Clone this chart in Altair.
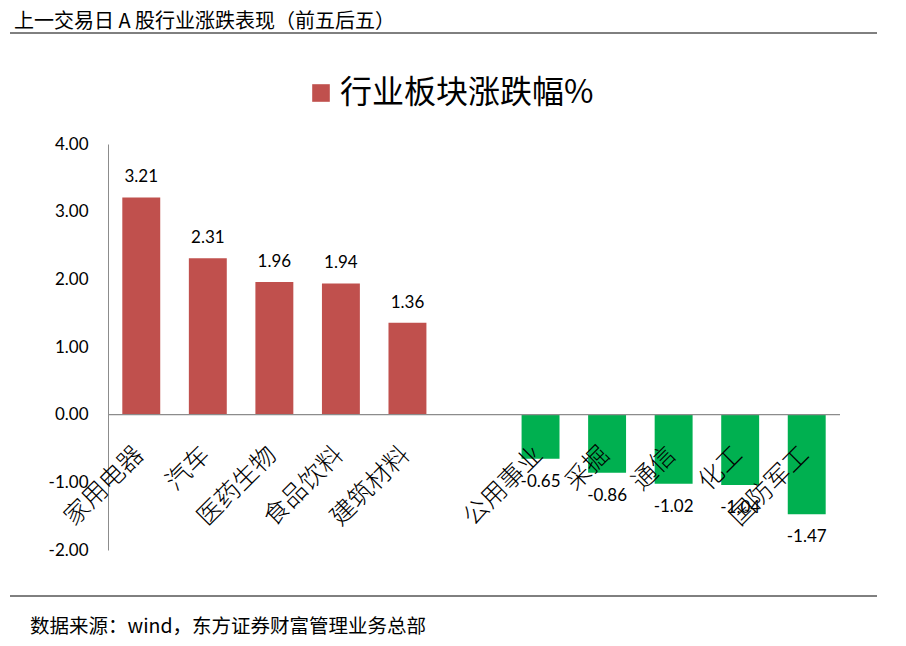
import altair as alt
import pandas as pd

# data
industries = ["家用电器", "汽车", "医药生物", "食品饮料", "建筑材料",
              "公用事业", "采掘", "通信", "化工", "国防军工"]
changes = [3.21, 2.31, 1.96, 1.94, 1.36, -0.65, -0.86, -1.02, -1.04, -1.47]
series_name = "行业板块涨跌幅%"
gap = " "
x_domain = industries[:5] + [gap] + industries[5:]
y_ticks = [-2, -1, 0, 1, 2, 3, 4]

header = "上一交易日 A 股行业涨跌表现（前五后五）"
footer = "数据来源：wind，东方证券财富管理业务总部"

RED = "#C0504D"
GREEN = "#00B050"
PLOT_W, PLOT_H = 732, 406
CJK = "Noto Sans CJK SC"
NUM = "Lato"

df = pd.DataFrame({"industry": industries, "change": changes, "series": series_name})
df["label"] = [f"{v:.2f}" for v in changes]  # plain hyphen minus, as in the reference

x_enc = alt.X("industry:N", sort=None, axis=None,
              scale=alt.Scale(domain=x_domain, paddingInner=0.43, paddingOuter=0.215))
y_scale = alt.Scale(domain=[-2, 4], nice=False)

base = alt.Chart(df)

bars = base.mark_bar().encode(
    x=x_enc,
    y=alt.Y("change:Q", scale=y_scale,
            axis=alt.Axis(values=y_ticks, format=".2f", title=None, grid=False, ticks=False,
                          domainColor="#8c8c8c", labelFontSize=17, labelFont=NUM,
                          labelColor="#000000", labelPadding=20,
                          labelExpr="replace(datum.label, '\u2212', '-')")),
    color=alt.condition(
        "datum.change < 0",
        alt.value(GREEN),
        alt.Color("series:N", scale=alt.Scale(domain=[series_name], range=[RED]),
                  legend=alt.Legend(title=None, orient="none", legendX=197, legendY=-67,
                                    symbolType="square", symbolSize=310, symbolStrokeWidth=0,
                                    labelFontSize=32, labelFont=CJK, labelColor="#000000",
                                    labelOffset=3, labelLimit=0)),
    ),
)

zero_line = alt.Chart(pd.DataFrame({"z": [0]})).mark_rule(color="#8c8c8c", strokeWidth=1.2).encode(
    y=alt.Y("z:Q", scale=y_scale), x=alt.value(0), x2=alt.value(PLOT_W)
)

pos_labels = base.transform_filter("datum.change >= 0").mark_text(
    dy=-20, baseline="middle", fontSize=17, font=NUM, color="#000000"
).encode(x=x_enc, y=alt.Y("change:Q", scale=y_scale), text="label:N")

neg_labels = base.transform_filter("datum.change < 0").mark_text(
    dy=23, baseline="middle", fontSize=17, font=NUM, color="#000000"
).encode(x=x_enc, y=alt.Y("change:Q", scale=y_scale), text="label:N")

cat_labels = base.mark_text(
    angle=315, align="right", baseline="middle", fontSize=25, font=CJK, fontWeight=300,
    color="#000000", yOffset=36, xOffset=-2
).encode(x=x_enc, y=alt.Y("z0:Q", scale=y_scale), text="industry:N").transform_calculate(z0="0")

texts = pd.DataFrame({"t": [header, footer], "kind": ["h", "f"]})
header_text = alt.Chart(texts).transform_filter("datum.kind == 'h'").mark_text(
    align="left", baseline="middle", fontSize=20, font=CJK, color="#000000"
).encode(text="t:N", x=alt.value(-94), y=alt.value(-122))
footer_text = alt.Chart(texts).transform_filter("datum.kind == 'f'").mark_text(
    align="left", baseline="middle", fontSize=19.5, font=CJK, color="#000000"
).encode(text="t:N", x=alt.value(-78), y=alt.value(483))

header_line = alt.Chart(pd.DataFrame({"a": [0]})).mark_rule(color="#000000", strokeWidth=1).encode(
    x=alt.value(-98), x2=alt.value(769), y=alt.value(-111)
)
footer_line = alt.Chart(pd.DataFrame({"a": [0]})).mark_rule(color="#000000", strokeWidth=1).encode(
    x=alt.value(-98), x2=alt.value(769), y=alt.value(452)
)

chart = alt.layer(
    bars, zero_line, pos_labels, neg_labels, cat_labels,
    header_text, footer_text, header_line, footer_line
).properties(
    width=PLOT_W,
    height=PLOT_H,
    padding={"left": 100, "top": 136, "right": 58, "bottom": 88},
    autosize=alt.AutoSizeParams(type="none"),
).configure_view(stroke=None)

chart.save("out.html", embed_options={"renderer": "svg", "actions": False})
